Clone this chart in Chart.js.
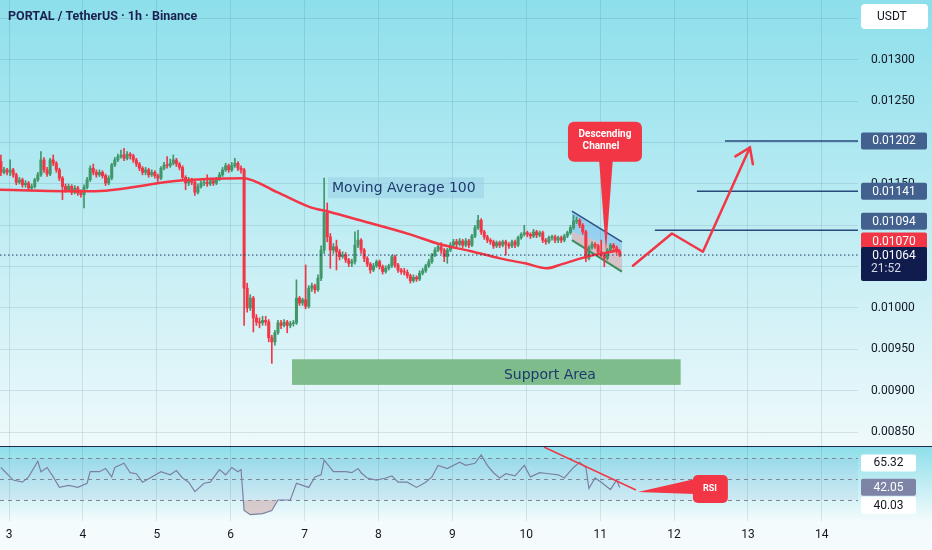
<!DOCTYPE html>
<html>
<head>
<meta charset="utf-8">
<script src="https://cdn.jsdelivr.net/npm/chart.js@4.4.1/dist/chart.umd.min.js"></script>
<style>
  html, body { margin: 0; padding: 0; }
  body { width: 932px; height: 550px; position: relative; overflow: hidden; background: #f5fbfc; }
  #mainBox { position: absolute; left: 0; top: 0; width: 932px; height: 446px;
    background: linear-gradient(to bottom, #8ddfeb 0%, #c4eef4 56%, #eff9fb 100%); }
  #sep { position: absolute; left: 0; top: 446px; width: 932px; height: 1px; background: #1d2b4f; }
  #rsiBox { position: absolute; left: 0; top: 447px; width: 932px; height: 103px;
    background: linear-gradient(to bottom, #8edfea 0px, #f3fbfc 74px, #f5fbfc 103px); }
</style>
</head>
<body>
<div id="mainBox"><canvas id="main"></canvas></div>
<div id="sep"></div>
<div id="rsiBox"><canvas id="rsi"></canvas></div>
<script>
// PORTAL / TetherUS 1h candles, prices in units of 0.00001 USDT
const firstCandleDay = 2.89;

const opens = [
  1177,1164,1167,1164,1167,1161,1152,1155,1149,1151, 1145,1147,1155,1161,1179,1167,1162,1179,1175,1167,
  1157,1147,1143,1147,1140,1145,1139,1137,1146,1155, 1169,1164,1161,1164,1160,1151,1157,1173,1179,1183,
  1185,1181,1186,1184,1179,1174,1169,1164,1167,1161, 1164,1160,1157,1169,1173,1172,1175,1179,1174,1170,
  1158,1151,1155,1152,1140,1147,1151,1152,1150,1154, 1151,1156,1161,1167,1172,1167,1172,1175,1169,1167,
  1024,1000,1012,988,983,982,985,983,964,959, 970,982,979,983,979,981,982,1012,1006,1010,
  1002,1024,1027,1022,1036,1070,1115,1086,1070,1074, 1068,1062,1064,1058,1054,1056,1076,1082,1070,1060,
  1053,1046,1051,1056,1050,1044,1048,1051,1062,1052, 1046,1044,1043,1039,1033,1037,1035,1042,1045,1051,
  1056,1064,1070,1074,1070,1062,1070,1076,1080,1077, 1081,1076,1081,1076,1087,1097,1106,1092,1086,1082,
  1080,1075,1079,1076,1080,1077,1075,1080,1076,1085, 1089,1091,1089,1087,1092,1088,1091,1082,1080,1085,
  1086,1082,1085,1082,1087,1091,1097,1105,1106,1100, 1092,1060,1073,1077,1075,1068,1064,1060,1070,1076,
  1073,1068
];
const highs = [
  1185,1170,1169,1179,1169,1163,1158,1157,1154,1153, 1150,1157,1164,1189,1182,1170,1181,1185,1177,1169,
  1159,1150,1150,1149,1148,1147,1143,1149,1158,1172, 1174,1167,1167,1166,1162,1160,1175,1182,1186,1191,
  1193,1189,1188,1186,1181,1176,1171,1170,1169,1167, 1166,1162,1171,1176,1183,1180,1185,1181,1176,1172,
  1160,1158,1157,1154,1150,1154,1155,1161,1157,1156, 1158,1164,1170,1175,1174,1176,1181,1177,1172,1169,
  1030,1016,1014,992,988,990,990,986,967,973, 985,985,986,985,984,985,1034,1014,1012,1052,
  1027,1030,1029,1040,1075,1157,1127,1090,1078,1082, 1071,1068,1067,1060,1059,1092,1094,1084,1072,1062,
  1055,1054,1058,1058,1052,1051,1053,1064,1064,1054, 1048,1048,1046,1041,1040,1039,1045,1048,1053,1059,
  1066,1073,1077,1079,1072,1072,1079,1083,1083,1084, 1083,1084,1083,1089,1100,1112,1108,1094,1088,1084,
  1082,1081,1081,1082,1082,1079,1082,1082,1087,1091, 1100,1093,1091,1095,1094,1093,1093,1084,1087,1088,
  1088,1087,1087,1089,1093,1100,1112,1110,1108,1102, 1094,1075,1080,1079,1077,1082,1066,1072,1078,1078,
  1075,1070
];
const lows = [
  1160,1162,1161,1160,1158,1149,1150,1146,1146,1142, 1141,1145,1153,1159,1164,1159,1160,1172,1164,1154,
  1131,1140,1141,1137,1138,1136,1134,1121,1144,1153, 1161,1158,1159,1157,1148,1149,1155,1171,1177,1181,
  1178,1179,1180,1176,1171,1166,1161,1161,1158,1159, 1157,1153,1155,1167,1169,1170,1173,1171,1167,1155,
  1143,1148,1149,1136,1138,1145,1148,1147,1148,1148, 1149,1154,1159,1165,1164,1165,1170,1166,1163,979,
  995,997,971,979,976,979,979,959,933,955, 968,975,977,970,976,978,980,1003,1003,999,
  1000,1020,1018,1020,1033,1066,1080,1048,1066,1046, 1058,1060,1055,1050,1050,1053,1073,1066,1056,1050,
  1042,1044,1049,1047,1041,1042,1046,1049,1049,1043, 1041,1040,1036,1030,1031,1032,1033,1040,1043,1049,
  1054,1062,1068,1066,1056,1054,1068,1074,1074,1075, 1073,1074,1073,1074,1085,1095,1089,1083,1079,1077,
  1072,1073,1073,1074,1064,1072,1073,1073,1074,1083, 1087,1086,1084,1085,1085,1086,1079,1077,1078,1082,
  1079,1079,1079,1080,1085,1089,1095,1102,1097,1089, 1056,1058,1071,1072,1065,1062,1050,1058,1068,1070,
  1066,1062
];
const closes = [
  1164,1167,1164,1167,1161,1152,1155,1149,1151,1145, 1147,1155,1161,1179,1167,1162,1179,1175,1167,1157,
  1147,1143,1147,1140,1145,1139,1137,1146,1155,1169, 1164,1161,1164,1160,1151,1157,1173,1179,1183,1185,
  1181,1186,1184,1179,1174,1169,1164,1167,1161,1164, 1160,1157,1169,1173,1172,1175,1179,1174,1170,1158,
  1151,1155,1152,1140,1147,1151,1152,1150,1154,1151, 1156,1161,1167,1172,1167,1172,1175,1169,1167,1024,
  1000,1012,988,983,982,985,983,964,959,970, 982,979,983,979,981,982,1012,1006,1010,1002,
  1024,1027,1022,1036,1070,1115,1086,1070,1074,1068, 1062,1064,1058,1054,1056,1076,1082,1070,1060,1053,
  1046,1051,1056,1050,1044,1048,1051,1062,1052,1046, 1044,1043,1039,1033,1037,1035,1042,1045,1051,1056,
  1064,1070,1074,1070,1062,1070,1076,1080,1077,1081, 1076,1081,1076,1087,1097,1106,1092,1086,1082,1080,
  1075,1079,1076,1080,1077,1075,1080,1076,1085,1089, 1091,1089,1087,1092,1088,1091,1082,1080,1085,1086,
  1082,1085,1082,1087,1091,1097,1105,1106,1100,1092, 1060,1073,1077,1075,1068,1064,1060,1070,1076,1073,
  1068,1064
];

// Moving Average 100 (red curve)
const maDays   = [2.878, 4.096, 5.314, 6.166, 6.627, 7.073, 7.344, 7.750, 8.426, 8.832, 9.238, 9.644, 9.982, 10.280, 10.483, 10.862, 11.268];
const maValues = [1143, 1141, 1154, 1157, 1140, 1122, 1116, 1106, 1089, 1077, 1069, 1060, 1054, 1048, 1053, 1063, 1070];

// RSI pane
const rsiCandle = [0,4,7,9,12,13,15,17,19,22, 25,28,29,32,34,36,37,40,42,44, 46,49,52,55,57,59,61,63,66,68,
  71,73,75,77,78,79,81,85,88,90, 94,96,98,100,102,104,105,108,112,114, 116,117,119,122,125,127,129,132,135,138,
  140,142,145,149,151,154,156,158,160,162, 164,167,170,172,175,178,181,183,186,188, 190,191,193,195,198,200,201];
const rsiValues = [61,49,47,52,67,57,61,52,42,44, 42,46,57,57,60,52,61,65,56,55, 47,52,57,54,58,51,47,38,46,47,
  59,54,61,57,59,20,16,17,20,30, 30,46,44,42,52,54,68,57,57,56, 60,56,51,49,51,53,47,47,42,47,
  52,63,60,66,63,65,73,63,56,51, 55,53,63,52,56,55,54,51,61,66, 61,41,51,47,40,49,42];
const rsiLevels = [70, 50, 30];
const rsiTags = [65.32, 42.05, 40.03];
const rsiTrendDays = [10.24, 11.485];
const rsiTrendValues = [80.5, 39.5];

// drawings on the price pane
const targetPrices = [1202, 1141, 1094];
const targetStartDays = [12.69, 12.31, 11.74];
const lastPrice = 1064;
const maLast = 1070;
const projDays = [11.444, 11.972, 12.391, 13.027];
const projPrices = [1051, 1090, 1068, 1194];
const channelDays = [10.618, 11.295];
const channelTop = [1117, 1080];
const channelMid = [1092, 1070];
const channelBottom = [1082, 1044];
const supportDays = [6.83, 12.09];
const supportPrices = [907, 938];

const xMin = 2.878, xMax = 14.49;
const P = v => v / 1e5;
const candleDay = n => firstCandleDay + n / 24;
const pts = (xs, ys, f) => xs.map((x, i) => ({x: x, y: f ? f(ys[i]) : ys[i]}));

Chart.defaults.font.family = 'Roboto, sans-serif';
Chart.defaults.font.size = 12;
Chart.defaults.color = '#131722';

const GREEN = '#3f976a', RED = '#f23645', NAVY = '#1d2f5e';
const gridColor = 'rgba(40,80,105,0.13)';
const candleColors = closes.map((c, n) => c >= opens[n] ? GREEN : RED);

function roundRect(ctx, x, y, w, h, r) {
  ctx.beginPath();
  ctx.moveTo(x + r, y);
  ctx.arcTo(x + w, y, x + w, y + h, r);
  ctx.arcTo(x + w, y + h, x, y + h, r);
  ctx.arcTo(x, y + h, x, y, r);
  ctx.arcTo(x, y, x + w, y, r);
  ctx.closePath();
}

function tag(ctx, x, yMid, w, h, bg, fg, text) {
  ctx.fillStyle = bg;
  roundRect(ctx, x, yMid - h / 2, w, h, 2);
  ctx.fill();
  ctx.fillStyle = fg;
  ctx.font = '12px Roboto';
  ctx.textAlign = 'center';
  ctx.textBaseline = 'middle';
  ctx.fillText(text, x + w / 2, yMid + 0.5);
}

// no extra room around the panes: plot area spans the whole canvas height
function flatX(s) { s.height = s.options.ticks.display ? 29 : 0; s.paddingLeft = 0; s.paddingRight = 0; }
function flatY(s) { s.width = 74; s.paddingTop = 0; s.paddingBottom = 0; }

const mainDrawings = {
  id: 'mainDrawings',
  afterDatasetsDraw(chart) {
    const {ctx, scales: {x, y}} = chart;
    ctx.save();
    // support area
    const sx0 = x.getPixelForValue(supportDays[0]), sx1 = x.getPixelForValue(supportDays[1]);
    const sy0 = y.getPixelForValue(P(supportPrices[1])), sy1 = y.getPixelForValue(P(supportPrices[0]));
    ctx.fillStyle = '#7fbc8c';
    ctx.fillRect(sx0, sy0, sx1 - sx0, sy1 - sy0);
    ctx.fillStyle = '#1d3a6c';
    ctx.font = '14px "DejaVu Sans"';
    ctx.textAlign = 'center';
    ctx.textBaseline = 'middle';
    ctx.fillText('Support Area', x.getPixelForValue(10.32), y.getPixelForValue(P(918)));

    // MA label
    const lx = x.getPixelForValue(7.371), ly = y.getPixelForValue(P(1146));
    ctx.fillStyle = 'rgba(150,205,228,0.5)';
    ctx.fillRect(lx - 4, ly - 10, 156, 21);
    ctx.fillStyle = '#1f3b6e';
    ctx.textAlign = 'left';
    ctx.fillText('Moving Average 100', lx, ly + 1);

    // projection arrow head
    const n = projDays.length;
    const tx = x.getPixelForValue(projDays[n - 1]), ty = y.getPixelForValue(P(projPrices[n - 1]));
    const px = x.getPixelForValue(projDays[n - 2]), py = y.getPixelForValue(P(projPrices[n - 2]));
    const back = Math.atan2(py - ty, px - tx);
    ctx.strokeStyle = RED;
    ctx.lineWidth = 2.5;
    ctx.lineCap = 'round';
    ctx.beginPath();
    ctx.moveTo(tx + 17 * Math.cos(back + 0.6), ty + 17 * Math.sin(back + 0.6));
    ctx.lineTo(tx, ty);
    ctx.lineTo(tx + 17 * Math.cos(back - 0.6), ty + 17 * Math.sin(back - 0.6));
    ctx.stroke();

    // Descending Channel callout
    const ax = x.getPixelForValue(11.079), ay = y.getPixelForValue(P(1068));
    ctx.fillStyle = RED;
    ctx.beginPath();
    ctx.moveTo(ax - 7, ay - 94);
    ctx.lineTo(ax + 7, ay - 94);
    ctx.lineTo(ax, ay);
    ctx.closePath();
    ctx.fill();
    roundRect(ctx, ax - 38, ay - 130, 74, 40, 6);
    ctx.fill();
    ctx.fillStyle = '#ffffff';
    ctx.font = 'bold 10px Roboto';
    ctx.textAlign = 'center';
    ctx.fillText('Descending', ax - 1, ay - 117);
    ctx.fillText('Channel', ax - 5, ay - 105);
    ctx.restore();
  },
  afterDraw(chart) {
    const {ctx, scales: {y}} = chart;
    const right = chart.chartArea.right;
    ctx.save();
    const tx = right + 3, tw = 66;
    tag(ctx, tx, y.getPixelForValue(P(targetPrices[0])), tw, 17, '#42618f', '#ffffff', (P(targetPrices[0])).toFixed(5));
    tag(ctx, tx, y.getPixelForValue(P(targetPrices[1])), tw, 17, '#42618f', '#ffffff', (P(targetPrices[1])).toFixed(5));
    tag(ctx, tx, y.getPixelForValue(P(targetPrices[2])) - 9, tw, 17, '#42618f', '#ffffff', (P(targetPrices[2])).toFixed(5));
    tag(ctx, tx, y.getPixelForValue(P(maLast)) - 9, tw, 17, RED, '#ffffff', (P(maLast)).toFixed(5));
    const ly = y.getPixelForValue(P(lastPrice));
    ctx.fillStyle = '#101c4d';
    roundRect(ctx, tx, ly - 8, tw, 34, 2);
    ctx.fill();
    ctx.fillStyle = '#ffffff';
    ctx.font = '12px Roboto';
    ctx.textAlign = 'center';
    ctx.textBaseline = 'middle';
    ctx.fillText((P(lastPrice)).toFixed(5), tx + tw / 2, ly + 0.5);
    ctx.fillStyle = '#d6d9e6';
    ctx.fillText('21:52', tx + tw / 2 - 8, ly + 14);

    // currency box
    ctx.fillStyle = '#ffffff';
    roundRect(ctx, right + 3, 4, 67, 25, 4);
    ctx.fill();
    ctx.fillStyle = '#131722';
    ctx.textAlign = 'left';
    ctx.fillText('USDT', right + 19, 17);

    // title
    ctx.fillStyle = '#1b2050';
    ctx.font = 'bold 12.5px Roboto';
    ctx.fillText('PORTAL / TetherUS \u00b7 1h \u00b7 Binance', 8, 17);
    ctx.restore();
  }
};

new Chart(document.getElementById('main'), {
  type: 'bar',
  data: {
    datasets: [
      {type: 'line', data: pts(channelDays, channelTop, P), borderColor: '#2f4f86', borderWidth: 1.5,
        pointRadius: 0, fill: '+1', backgroundColor: 'rgba(60,150,230,0.32)', order: 12},
      {type: 'line', data: pts(channelDays, channelMid, P), borderColor: 'rgba(0,0,0,0)', borderWidth: 0,
        pointRadius: 0, fill: '+1', backgroundColor: 'rgba(240,120,130,0.38)', order: 11},
      {type: 'line', data: pts(channelDays, channelBottom, P), borderColor: '#3c8c5c', borderWidth: 2,
        pointRadius: 0, fill: false, order: 10},
      {type: 'bar', data: highs.map((h, n) => ({x: candleDay(n), y: [P(lows[n]), P(h)]})),
        backgroundColor: candleColors, barThickness: 1, grouped: false, order: 7},
      {type: 'bar', data: opens.map((o, n) => ({x: candleDay(n), y: [P(o), P(closes[n])]})),
        backgroundColor: candleColors, barThickness: 2.4, minBarLength: 1, grouped: false, order: 6},
      {type: 'line', data: pts(maDays, maValues, P), borderColor: RED, borderWidth: 2.5,
        pointRadius: 0, cubicInterpolationMode: 'monotone', fill: false, order: 5},
      {type: 'line', data: pts([xMin, xMax], [lastPrice, lastPrice], P), borderColor: NAVY, borderWidth: 1,
        borderDash: [1.5, 2.5], pointRadius: 0, fill: false, order: 4},
      ...targetPrices.map((v, i) => ({type: 'line', data: pts([targetStartDays[i], xMax], [v, v], P),
        borderColor: '#27497c', borderWidth: 1.5, pointRadius: 0, fill: false, order: 3})),
      {type: 'line', data: pts(projDays, projPrices, P), borderColor: RED, borderWidth: 2.5,
        pointRadius: 0, fill: false, borderCapStyle: 'round', borderJoinStyle: 'round', order: 2}
    ]
  },
  options: {
    responsive: true,
    maintainAspectRatio: false,
    animation: false,
    events: [],
    layout: {padding: 0},
    plugins: {legend: {display: false}, tooltip: {enabled: false}},
    scales: {
      x: {
        type: 'linear', min: xMin, max: xMax, offset: false,
        ticks: {display: false, stepSize: 1, includeBounds: false, maxTicksLimit: 20},
        grid: {color: gridColor, drawTicks: false, offset: false},
        border: {display: false},
        afterFit: flatX
      },
      y: {
        position: 'right', min: P(833.1), max: P(1372.4),
        ticks: {stepSize: 0.0005, includeBounds: false, maxTicksLimit: 20, padding: 13,
          color: '#131722', font: {size: 12}, callback: v => v.toFixed(5)},
        grid: {color: gridColor, drawTicks: false},
        border: {display: false},
        afterFit: flatY
      }
    }
  },
  plugins: [mainDrawings]
});

const rsiDrawings = {
  id: 'rsiDrawings',
  beforeDatasetsDraw(chart) {
    const {ctx, chartArea: a, scales: {y}} = chart;
    ctx.save();
    ctx.fillStyle = 'rgba(110,120,200,0.07)';
    ctx.fillRect(a.left, y.getPixelForValue(rsiLevels[0]), a.right - a.left,
      y.getPixelForValue(rsiLevels[2]) - y.getPixelForValue(rsiLevels[0]));
    ctx.strokeStyle = '#7f8797';
    ctx.lineWidth = 1;
    ctx.setLineDash([4, 4]);
    rsiLevels.forEach(v => {
      const py = Math.round(y.getPixelForValue(v)) + 0.5;
      ctx.beginPath();
      ctx.moveTo(a.left, py);
      ctx.lineTo(a.right, py);
      ctx.stroke();
    });
    ctx.restore();
  },
  afterDatasetsDraw(chart) {
    const {ctx, scales: {x, y}} = chart;
    const ax = x.getPixelForValue(11.511), ay = y.getPixelForValue(37.6);
    ctx.save();
    ctx.fillStyle = RED;
    ctx.beginPath();
    ctx.moveTo(ax, ay);
    ctx.lineTo(ax + 57, ay - 13);
    ctx.lineTo(ax + 57, ay + 2);
    ctx.closePath();
    ctx.fill();
    roundRect(ctx, ax + 55, ay - 17, 35, 28, 5);
    ctx.fill();
    ctx.fillStyle = '#ffffff';
    ctx.font = 'bold 9px Roboto';
    ctx.textAlign = 'center';
    ctx.textBaseline = 'middle';
    ctx.fillText('RSI', ax + 72, ay - 3);
    ctx.restore();
  },
  afterDraw(chart) {
    const {ctx, scales: {y}} = chart;
    const tx = chart.chartArea.right + 3;
    ctx.save();
    tag(ctx, tx, y.getPixelForValue(rsiTags[0]), 55, 17, '#ffffff', '#131722', rsiTags[0].toFixed(2));
    tag(ctx, tx, y.getPixelForValue(rsiTags[1]), 55, 17, '#7d84a6', '#ffffff', rsiTags[1].toFixed(2));
    tag(ctx, tx, y.getPixelForValue(rsiTags[1]) + 18, 55, 17, '#ffffff', '#131722', rsiTags[2].toFixed(2));
    ctx.restore();
  }
};

new Chart(document.getElementById('rsi'), {
  type: 'line',
  data: {
    datasets: [
      {data: pts(rsiCandle.map(candleDay), rsiValues), borderColor: '#7c80a2', borderWidth: 1.2,
        pointRadius: 0, tension: 0,
        fill: {target: {value: 30}, above: 'rgba(0,0,0,0)', below: 'rgba(205,150,150,0.45)'}, order: 2},
      {data: pts(rsiTrendDays, rsiTrendValues), borderColor: RED, borderWidth: 1.5,
        pointRadius: 0, fill: false, order: 1}
    ]
  },
  options: {
    responsive: true,
    maintainAspectRatio: false,
    animation: false,
    events: [],
    layout: {padding: 0},
    plugins: {legend: {display: false}, tooltip: {enabled: false}},
    scales: {
      x: {
        type: 'linear', min: xMin, max: xMax,
        ticks: {stepSize: 1, includeBounds: false, maxTicksLimit: 20, padding: 7, autoSkip: false,
          color: '#131722', font: {size: 12}, maxRotation: 0, callback: v => String(v)},
        grid: {color: gridColor, drawTicks: false},
        border: {display: false},
        afterFit: flatX
      },
      y: {
        position: 'right', min: 10, max: 80.5,
        ticks: {display: false},
        grid: {display: false},
        border: {display: false},
        afterFit: flatY
      }
    }
  },
  plugins: [rsiDrawings]
});
</script>
</body>
</html>
